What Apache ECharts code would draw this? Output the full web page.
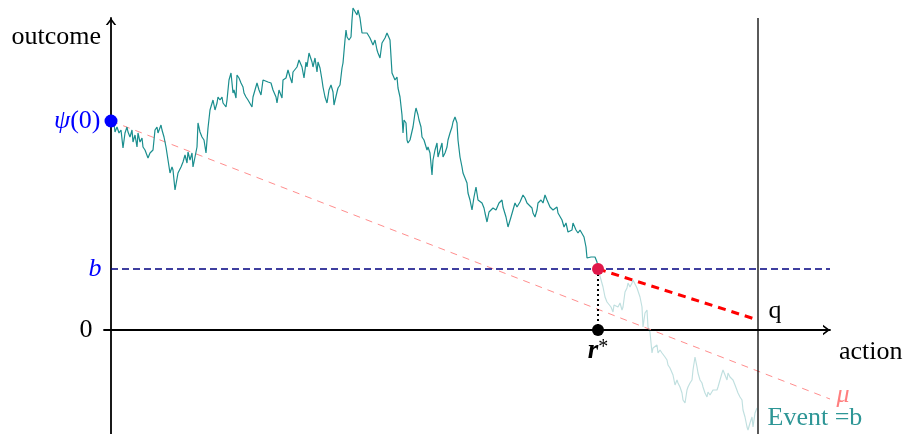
<!DOCTYPE html>
<html><head><meta charset="utf-8">
<script src="https://cdn.jsdelivr.net/npm/echarts@6/dist/echarts.min.js"></script>
<style>html,body{margin:0;padding:0;background:#fff}#c{width:908px;height:434px}</style>
</head><body><div id="c"></div>
<script>
// Key levels (action on x, outcome on y)
const psi0 = 209, bLevel = 61, rStar = 487, qAction = 647, qOutcome = 10;
const xMin = -7, xMax = 719, yMin = -104, yMax = 312;
const muStart = [0, 209], muEnd = [719, -69];

// Observed path up to r*
const observedPath = [
[0,209],[2,215],[4,198],[6,203],[8,197],[10,200],[12,182],[14,197],[16,203],[17,198],[19,193],[21,200],[22,188],[24,195],[26,183],[27,197],[29,188],[31,192],[32,183],[34,180],[37,172],[39,177],[42,180],[44,200],[46,203],[47,197],[50,205],[51,200],[53,193],[55,183],[57,170],[59,157],[61,163],[62,160],[64,140],[66,142],[67,157],[70,163],[72,168],[74,175],[76,167],[77,178],[79,170],[81,177],[82,163],[84,173],[86,183],[87,207],[89,198],[91,193],[93,190],[95,177],[97,202],[99,220],[102,230],[104,220],[106,227],[107,233],[109,230],[111,233],[112,227],[115,223],[116,230],[118,250],[120,257],[122,237],[123,240],[125,232],[126,255],[128,252],[130,247],[132,243],[133,237],[135,233],[137,230],[139,232],[141,223],[142,233],[144,240],[146,247],[148,240],[150,235],[152,250],[154,250],[157,248],[160,247],[162,240],[165,233],[166,227],[168,240],[171,232],[172,250],[175,252],[177,260],[179,253],[181,247],[182,258],[186,263],[188,270],[189,268],[191,263],[193,252],[195,268],[196,263],[198,277],[201,268],[202,263],[204,272],[206,258],[207,268],[209,262],[211,250],[212,243],[214,233],[216,227],[218,240],[220,245],[222,238],[223,225],[226,238],[227,242],[229,245],[231,262],[232,267],[234,290],[235,300],[236,293],[238,290],[240,293],[241,310],[242,322],[244,320],[246,315],[247,320],[249,312],[251,297],[252,297],[256,297],[257,298],[259,292],[261,292],[262,285],[264,290],[266,280],[267,277],[269,272],[271,287],[272,288],[274,292],[276,297],[277,298],[279,290],[281,257],[282,255],[284,250],[286,253],[287,242],[289,233],[291,215],[292,197],[293,210],[295,207],[296,190],[297,187],[299,190],[301,192],[302,203],[304,217],[305,222],[307,215],[308,210],[310,203],[311,193],[313,190],[315,192],[316,180],[317,183],[319,177],[321,155],[322,170],[324,180],[326,187],[327,173],[329,180],[331,187],[332,173],[334,177],[336,183],[337,190],[339,197],[341,203],[342,208],[344,213],[346,207],[347,190],[349,173],[351,163],[352,157],[354,152],[356,147],[357,137],[359,130],[361,120],[363,133],[365,143],[367,130],[369,130],[371,127],[373,122],[374,117],[376,108],[378,118],[382,122],[385,120],[388,127],[391,130],[392,123],[395,113],[397,103],[400,113],[402,120],[404,127],[406,123],[409,128],[412,135],[414,132],[416,127],[418,125],[421,122],[422,117],[424,113],[426,120],[427,127],[430,130],[432,127],[434,135],[436,130],[439,123],[442,120],[446,123],[447,117],[449,118],[451,110],[453,103],[455,107],[457,98],[459,97],[461,100],[462,107],[465,100],[467,97],[469,100],[471,98],[473,93],[475,83],[476,72],[478,70],[480,73],[482,72],[484,73],[486,68],[487,61]
];

// Unobserved continuation after r*
const hiddenPath = [
[487,61],[489,62],[492,43],[494,33],[496,28],[497,30],[500,23],[502,18],[503,25],[505,27],[507,23],[509,27],[511,20],[512,23],[514,38],[516,42],[517,47],[519,43],[521,47],[522,50],[524,48],[526,42],[527,40],[529,33],[531,23],[532,3],[534,17],[536,20],[537,3],[539,-2],[541,-23],[542,-18],[544,-20],[546,-15],[547,-23],[549,-20],[551,-23],[552,-22],[554,-27],[556,-30],[557,-35],[559,-38],[561,-40],[562,-45],[564,-55],[566,-50],[567,-53],[569,-57],[571,-63],[572,-70],[574,-73],[576,-60],[577,-57],[579,-53],[581,-50],[582,-40],[584,-27],[586,-37],[587,-43],[589,-50],[591,-53],[592,-57],[594,-63],[596,-67],[597,-62],[599,-65],[601,-63],[602,-60],[604,-62],[606,-60],[607,-57],[609,-50],[611,-43],[612,-40],[614,-45],[616,-50],[617,-43],[619,-47],[621,-45],[622,-50],[624,-55],[626,-57],[627,-63],[629,-67],[631,-70],[632,-80],[634,-87],[636,-97],[637,-100],[639,-93],[641,-87],[642,-97],[644,-83],[646,-78]
];

const F = "'Liberation Serif','Times New Roman',serif";
const FS = 26;
const arrow = 'path://M0,8L6,0L12,8L9.7,8L6,3.1L2.3,8Z';
const chart = echarts.init(document.getElementById('c'), null, {renderer:'canvas'});
const lbl = (o) => Object.assign({show:true, fontFamily:F, fontSize:FS, color:'#000', opacity:1}, o);

chart.setOption({
  animation: false,
  backgroundColor: '#fff',
  grid: {left: 104, right: 78, top: 18, bottom: 0, containLabel: false},
  xAxis: {
    type: 'value', min: xMin, max: xMax,
    axisLine: {onZero: true, symbol: ['none', arrow], symbolSize: [12, 7], symbolOffset: [0, -3.5], lineStyle: {color: '#000', width: 1.8}},
    axisTick: {show: false}, axisLabel: {show: false}, splitLine: {show: false},
    name: 'action', nameLocation: 'end', nameGap: 9,
    nameTextStyle: {fontFamily: F, fontSize: FS, color: '#000', verticalAlign: 'top', padding: [9, 0, 0, 0]}
  },
  yAxis: {
    type: 'value', min: yMin, max: yMax,
    axisLine: {onZero: true, symbol: ['none', arrow], symbolSize: [12, 7], symbolOffset: [0, -3.5], lineStyle: {color: '#000', width: 1.8}},
    axisTick: {show: false}, axisLabel: {show: false}, splitLine: {show: false},
    name: 'outcome', nameLocation: 'end', nameGap: -19,
    nameTextStyle: {fontFamily: F, fontSize: FS, color: '#000', align: 'right', verticalAlign: 'middle', padding: [0, 10, 0, 0]}
  },
  series: [
    {type: 'line', data: [muStart, muEnd], showSymbol: false, silent: true, z: 2,
     lineStyle: {color: '#ff8080', width: 0.9, type: [7, 6]}},
    {type: 'line', data: [[0, bLevel], [xMax, bLevel]], showSymbol: false, silent: true, z: 2,
     lineStyle: {color: '#000080', width: 1.3, type: [7, 4]}},
    {type: 'line', data: [[qAction, yMin], [qAction, yMax]], showSymbol: false, silent: true, z: 2,
     lineStyle: {color: '#000', width: 1.3}},
    {type: 'line', data: hiddenPath, showSymbol: false, silent: true, z: 3, clip: false,
     lineStyle: {color: '#008080', width: 1.15, opacity: 0.25}},
    {type: 'line', data: observedPath, showSymbol: false, silent: true, z: 4, clip: false,
     lineStyle: {color: '#1a8e8e', width: 1.2}},
    {type: 'line', data: [[rStar, bLevel], [qAction, qOutcome]], showSymbol: false, silent: true, z: 5,
     lineStyle: {color: '#ff0000', width: 3, type: [8, 6]}},
    {type: 'line', data: [[rStar, bLevel], [rStar, 0]], showSymbol: false, silent: true, z: 5,
     lineStyle: {color: '#000', width: 2, type: [2, 3]}},
    {type: 'scatter', silent: true, z: 6, itemStyle: {opacity: 1},
     data: [
       {value: [0, psi0], symbolSize: 13, itemStyle: {color: '#0000ff', opacity: 1}},
       {value: [rStar, bLevel], symbolSize: 12, itemStyle: {color: '#e0184a', opacity: 1}},
       {value: [rStar, 0], symbolSize: 12, itemStyle: {color: '#000', opacity: 1}}
     ]},
    {type: 'scatter', silent: true, z: 7, symbolSize: 1, itemStyle: {color: 'rgba(0,0,0,0)', opacity: 1},
     data: [
       {value: [0, psi0], label: lbl({position: 'left', distance: 10, formatter: '{i|ψ}{n|(0)}',
         rich: {i: {fontFamily: F, fontSize: FS, fontStyle: 'italic', color: '#0000ff'}, n: {fontFamily: F, fontSize: FS, color: '#0000ff'}}})},
       {value: [0, bLevel], label: lbl({position: 'left', distance: 9, formatter: 'b', fontStyle: 'italic', color: '#0000ff'})},
       {value: [0, 0], label: lbl({position: 'left', distance: 18, formatter: '0'})},
       {value: [rStar, 0], label: lbl({position: 'bottom', distance: 7, formatter: '{r|r}{s|*}',
         rich: {r: {fontFamily: F, fontSize: 27, fontStyle: 'italic', fontWeight: 'bold', color: '#000'}, s: {fontFamily: F, fontSize: 20, color: '#000', verticalAlign: 'top'}}})},
       {value: [qAction, 0], label: lbl({position: 'right', distance: 10, offset: [0, -19], formatter: 'q'})},
       {value: muEnd, label: lbl({position: 'right', distance: 6, offset: [0, -4], formatter: 'μ', fontStyle: 'italic', color: '#ff7f7f'})},
       {value: [qAction, -88], label: lbl({position: 'right', distance: 9, formatter: 'Event =b', color: '#2e9696'})}
     ]}
  ]
});
</script></body></html>
